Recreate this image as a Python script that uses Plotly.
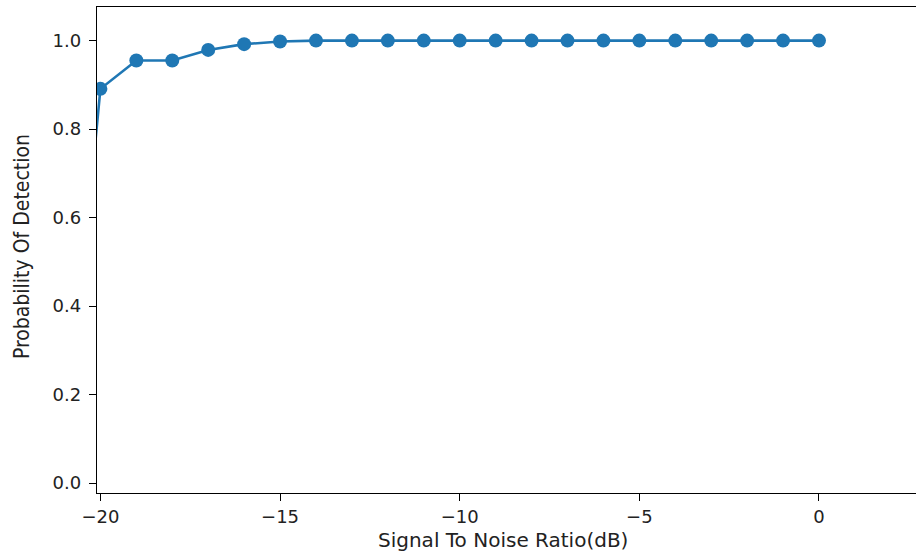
import plotly.graph_objects as go

# Detection probability versus SNR
snr_db = [-21, -20, -19, -18, -17, -16, -15, -14, -13, -12, -11, -10,
          -9, -8, -7, -6, -5, -4, -3, -2, -1, 0]
p_detect = [0.04, 0.891, 0.955, 0.955, 0.979, 0.992, 0.998, 1.0, 1.0, 1.0, 1.0, 1.0,
            1.0, 1.0, 1.0, 1.0, 1.0, 1.0, 1.0, 1.0, 1.0, 1.0]

x_ticks = [-20, -15, -10, -5, 0]
y_ticks = [0.0, 0.2, 0.4, 0.6, 0.8, 1.0]

blue = "#1f77b4"
tick_font = dict(family="DejaVu Sans", size=18, color="#222222")

fig = go.Figure()
fig.add_trace(go.Scatter(
    x=snr_db, y=p_detect, mode="lines+markers",
    line=dict(color=blue, width=2.6),
    marker=dict(color=blue, size=14),
    cliponaxis=True, showlegend=False,
))

fig.update_layout(
    width=916, height=553,
    margin=dict(l=97, r=0, t=7, b=60),
    paper_bgcolor="white", plot_bgcolor="white",
    xaxis=dict(
        range=[-20.095, 2.70], tickvals=x_ticks,
        showgrid=False, zeroline=False,
        showline=True, linecolor="black", linewidth=1.3, mirror=True,
        ticks="outside", ticklen=7, tickwidth=1.2, tickcolor="black",
        tickfont=tick_font,
    ),
    yaxis=dict(
        range=[-0.0225, 1.076], tickvals=y_ticks, tickformat=".1f",
        showgrid=False, zeroline=False,
        showline=True, linecolor="black", linewidth=1.3, mirror=False,
        ticks="outside", ticklen=7, tickwidth=1.2, tickcolor="black",
        tickfont=tick_font, ticklabelstandoff=4,
    ),
    annotations=[
        dict(text="Signal To Noise Ratio(dB)", xref="paper", yref="paper",
             x=0.496, y=-0.097, xanchor="center", yanchor="middle",
             showarrow=False,
             font=dict(family="DejaVu Sans", size=20, color="#222222")),
        dict(text="Probability Of Detection", xref="paper", yref="paper",
             x=-0.0916, y=0.508, xanchor="center", yanchor="middle",
             textangle=-90, showarrow=False,
             font=dict(family="Liberation Sans Narrow, DejaVu Sans Condensed, Roboto",
                       size=21, color="#222222")),
    ],
)

fig.write_html("out.html")
